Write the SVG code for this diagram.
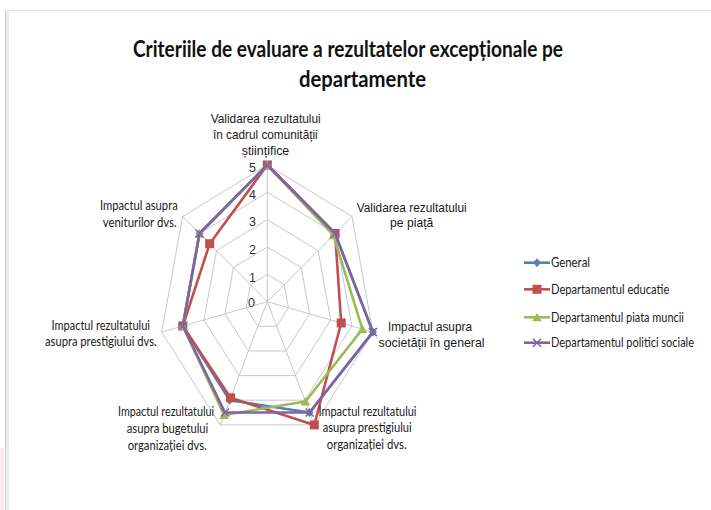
<svg xmlns="http://www.w3.org/2000/svg" xmlns:xlink="http://www.w3.org/1999/xlink" width="711" height="510" viewBox="0 0 711 510">
<style>
.grid{fill:none;stroke:#c8c8c8;stroke-width:1}
.s{fill:none;stroke-width:2.6;stroke-linejoin:round}
.arial{font-family:"Liberation Sans",Arial,sans-serif;font-size:13px;fill:#1a1a1a}
.cal{font-family:Lato,"Open Sans",sans-serif;font-size:13px;fill:#1a1a1a}
.ttl{font-family:Lato,"Open Sans",sans-serif;font-weight:bold;font-size:23.5px;fill:#111}
.tick{font-family:"Liberation Sans",Arial,sans-serif;font-size:12.5px;fill:#333;text-anchor:middle}
</style>
<defs>
<path id="mD" d="M0,-4 L3.5,0 L0,4 L-3.5,0 Z" fill="#4F81BD" stroke="#4F81BD" stroke-width="0.8"/>
<rect id="mS" x="-4.5" y="-4.5" width="9" height="9" fill="#C0504D"/>
<path id="mT" d="M0,-4.5 L4.8,4 L-4.8,4 Z" fill="#9BBB59"/>
<path id="mX" d="M-4,-4 L4,4 M-4,4 L4,-4" stroke="#8064A2" stroke-width="1.6" fill="none"/>
</defs>
<rect width="711" height="510" fill="#fff"/>
<rect x="0" y="448" width="4" height="62" fill="#fbe8e8"/>
<line x1="5" y1="10.5" x2="711" y2="10.5" stroke="#e4e4e4" stroke-width="1.2"/>
<rect x="5" y="10" width="4" height="500" fill="#ececec"/>
<line x1="5.5" y1="10" x2="5.5" y2="510" stroke="#cfcfcf" stroke-width="1"/>
<g id="title">
<text class="ttl" x="133" y="57" textLength="430" lengthAdjust="spacingAndGlyphs">Criteriile de evaluare a rezultatelor excepționale pe</text>
<text class="ttl" x="299" y="87" textLength="127" lengthAdjust="spacingAndGlyphs">departamente</text>
</g>
<g id="grid">
<polygon class="grid" points="267.3,165 352,216.5 372.9,332.1 314.3,424.9 220.3,424.9 161.7,332.1 182.6,216.5"/>
<polygon class="grid" points="267.3,192.3 335.1,233.5 351.8,326 304.9,400.2 229.7,400.2 182.8,326 199.5,233.5"/>
<polygon class="grid" points="267.3,219.7 318.1,250.6 330.7,320 295.5,375.6 239.1,375.6 203.9,320 216.5,250.6"/>
<polygon class="grid" points="267.3,247 301.2,267.6 309.6,313.9 286.1,351 248.5,351 225,313.9 233.4,267.6"/>
<polygon class="grid" points="267.3,274.4 284.2,284.7 288.4,307.8 276.7,326.3 257.9,326.3 246.2,307.8 250.4,284.7"/>
<path class="grid" d="M267.3,301.7 L267.3,165 M267.3,301.7 L352,216.5 M267.3,301.7 L372.9,332.1 M267.3,301.7 L314.3,424.9 M267.3,301.7 L220.3,424.9 M267.3,301.7 L161.7,332.1 M267.3,301.7 L182.6,216.5"/>
</g>
<g id="ticks">
<text class="tick" x="252.5" y="171.5">5</text>
<text class="tick" x="252.5" y="199">4</text>
<text class="tick" x="252.5" y="226">3</text>
<text class="tick" x="252.5" y="254.3">2</text>
<text class="tick" x="252.5" y="281.8">1</text>
<text class="tick" x="251.5" y="307.3">0</text>
</g>
<g id="connectors">
<g id="series-general">
<polygon class="s" stroke="#4F81BD" points="267.3,165 335.1,233.5 372.9,332.1 309.6,412.5 229.7,400.2 182.8,326 199.5,233.5"/>
<use href="#mD" x="267.3" y="165"/><use href="#mD" x="335.1" y="233.5"/><use href="#mD" x="372.9" y="332.1"/><use href="#mD" x="309.6" y="412.5"/><use href="#mD" x="229.7" y="400.2"/><use href="#mD" x="182.8" y="326"/><use href="#mD" x="199.5" y="233.5"/>
</g>
<g id="series-educatie">
<polygon class="s" stroke="#C0504D" points="267.3,165 335.1,233.5 341.2,323 314.3,424.9 230.6,397.8 182.8,326 209.7,243.7"/>
<use href="#mS" x="267.3" y="165"/><use href="#mS" x="335.1" y="233.5"/><use href="#mS" x="341.2" y="323"/><use href="#mS" x="314.3" y="424.9"/><use href="#mS" x="230.6" y="397.8"/><use href="#mS" x="182.8" y="326"/><use href="#mS" x="209.7" y="243.7"/>
</g>
<g id="series-piata">
<polygon class="s" stroke="#9BBB59" points="267.3,165 333.4,235.2 362.4,329.1 305.4,401.5 224.1,415 182.8,326 199.5,233.5"/>
<use href="#mT" x="267.3" y="165"/><use href="#mT" x="333.4" y="235.2"/><use href="#mT" x="362.4" y="329.1"/><use href="#mT" x="305.4" y="401.5"/><use href="#mT" x="224.1" y="415"/><use href="#mT" x="182.8" y="326"/><use href="#mT" x="199.5" y="233.5"/>
</g>
<g id="series-politici">
<polygon class="s" stroke="#8064A2" points="267.3,165 335.1,233.5 372.9,332.1 309.6,412.5 225,412.5 182.8,326 199.5,233.5"/>
<use href="#mX" x="267.3" y="165"/><use href="#mX" x="335.1" y="233.5"/><use href="#mX" x="372.9" y="332.1"/><use href="#mX" x="309.6" y="412.5"/><use href="#mX" x="225" y="412.5"/><use href="#mX" x="182.8" y="326"/><use href="#mX" x="199.5" y="233.5"/>
</g>
</g>
<g id="label-validare-stiintifica">
<text class="arial" x="210.7" y="122.5" textLength="110" lengthAdjust="spacingAndGlyphs">Validarea rezultatului</text>
<text class="arial" x="213" y="138.5" textLength="104.7" lengthAdjust="spacingAndGlyphs">în cadrul comunității</text>
<text class="arial" x="241.7" y="154.5" textLength="47.6" lengthAdjust="spacingAndGlyphs">științifice</text>
</g>
<g id="label-validare-piata">
<text class="arial" x="356.7" y="211.5" textLength="110" lengthAdjust="spacingAndGlyphs">Validarea rezultatului</text>
<text class="arial" x="390" y="227" textLength="43.3" lengthAdjust="spacingAndGlyphs">pe piață</text>
</g>
<g id="label-societate">
<text class="arial" x="388" y="331" textLength="84" lengthAdjust="spacingAndGlyphs">Impactul asupra</text>
<text class="arial" x="378.5" y="347" textLength="106" lengthAdjust="spacingAndGlyphs">societății în general</text>
</g>
<g id="label-prestigiu-organizatie">
<text class="cal" x="318.5" y="415.5" textLength="98" lengthAdjust="spacingAndGlyphs">Impactul rezultatului</text>
<text class="cal" x="322.7" y="432" textLength="89" lengthAdjust="spacingAndGlyphs">asupra prestigiului</text>
<text class="cal" x="326.7" y="448.5" textLength="80" lengthAdjust="spacingAndGlyphs">organizației dvs.</text>
</g>
<g id="label-buget">
<text class="cal" x="118" y="415.5" textLength="96" lengthAdjust="spacingAndGlyphs">Impactul rezultatului</text>
<text class="cal" x="126.7" y="432.5" textLength="81.6" lengthAdjust="spacingAndGlyphs">asupra bugetului</text>
<text class="cal" x="127.7" y="449.5" textLength="79" lengthAdjust="spacingAndGlyphs">organizației dvs.</text>
</g>
<g id="label-prestigiu-dvs">
<text class="cal" x="51.5" y="330" textLength="98.5" lengthAdjust="spacingAndGlyphs">Impactul rezultatului</text>
<text class="cal" x="45" y="346" textLength="111.7" lengthAdjust="spacingAndGlyphs">asupra prestigiului dvs.</text>
</g>
<g id="label-venituri">
<text class="cal" x="100" y="210" textLength="77.7" lengthAdjust="spacingAndGlyphs">Impactul asupra</text>
<text class="cal" x="102.7" y="226.5" textLength="74" lengthAdjust="spacingAndGlyphs">veniturilor dvs.</text>
</g>
<g id="legend">
<line x1="524" y1="262.7" x2="550" y2="262.7" stroke="#4F81BD" stroke-width="2.6"/><use href="#mD" x="537" y="262.7"/>
<line x1="524" y1="289.3" x2="550" y2="289.3" stroke="#C0504D" stroke-width="2.6"/><use href="#mS" x="537" y="289.3"/>
<line x1="524" y1="317.3" x2="550" y2="317.3" stroke="#9BBB59" stroke-width="2.6"/><use href="#mT" x="537" y="317.3"/>
<line x1="524" y1="342.7" x2="550" y2="342.7" stroke="#8064A2" stroke-width="2.6"/><use href="#mX" x="537" y="342.7"/>
<g transform="translate(551,0) scale(0.8,1)">
<text class="cal" x="0" y="267.2" textLength="48.75" lengthAdjust="spacingAndGlyphs">General</text>
<text class="cal" x="0" y="293.8" textLength="147.9" lengthAdjust="spacingAndGlyphs">Departamentul educatie</text>
<text class="cal" x="0" y="321.8" textLength="166.25" lengthAdjust="spacingAndGlyphs">Departamentul piata muncii</text>
<text class="cal" x="0" y="347.2" textLength="178.75" lengthAdjust="spacingAndGlyphs">Departamentul politici sociale</text>
</g>
</g>
</svg>
